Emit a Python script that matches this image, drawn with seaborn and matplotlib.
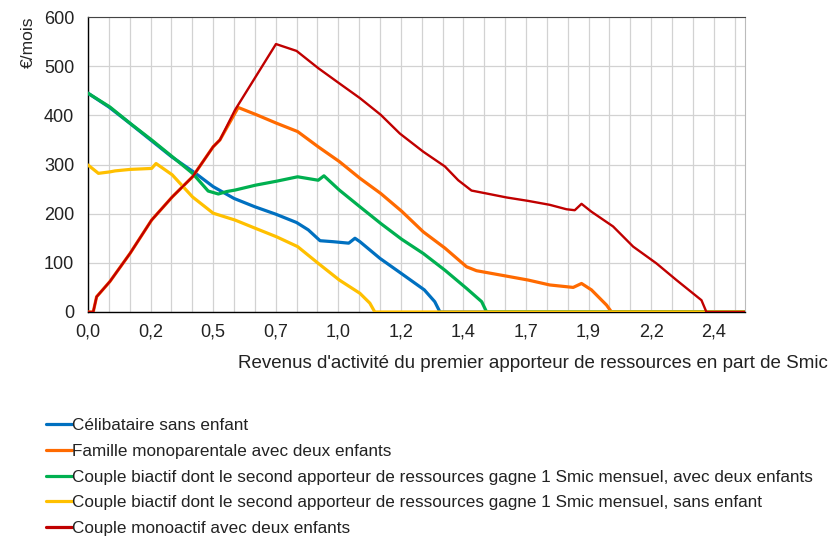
import matplotlib
matplotlib.use("Agg")

import matplotlib.pyplot as plt
import pandas as pd
import seaborn as sns
from matplotlib.lines import Line2D
from matplotlib.ticker import FuncFormatter, MultipleLocator

# Données (x en part de Smic, y en euros par mois)
celib_x = [0.0, 0.08, 0.16, 0.24, 0.32, 0.41, 0.48, 0.56, 0.64, 0.72, 0.80, 0.845, 0.89, 0.94, 1.00, 1.024, 1.043, 1.12, 1.20, 1.29, 1.33, 1.35, 2.52]
celib_y = [445, 417, 384, 350, 316, 283, 255, 231, 214, 199, 182, 167, 145, 143, 140, 150, 143, 109, 79, 45, 21, 0, 0]

mono_x = [0.0, 0.02, 0.033, 0.084, 0.161, 0.244, 0.323, 0.401, 0.48, 0.506, 0.576, 0.647, 0.723, 0.804, 0.883, 0.964, 1.043, 1.123, 1.203, 1.286, 1.369, 1.452, 1.49, 1.605, 1.688, 1.771, 1.861, 1.893, 1.931, 1.989, 2.008, 2.52]
mono_y = [0, 0, 31, 62, 119, 187, 234, 275, 336, 350, 416, 401, 384, 367, 336, 306, 272, 241, 205, 163, 130, 92, 84, 73, 65, 55, 50, 58, 45, 14, 0, 0]

biactif_enf_x = [0.0, 0.084, 0.161, 0.244, 0.323, 0.401, 0.461, 0.50, 0.532, 0.564, 0.643, 0.723, 0.804, 0.883, 0.905, 0.964, 1.043, 1.123, 1.203, 1.286, 1.369, 1.452, 1.51, 1.529, 2.52]
biactif_enf_y = [445, 417, 384, 350, 316, 282, 246, 240, 245, 248, 258, 266, 275, 268, 277, 248, 214, 180, 148, 119, 85, 48, 21, 0, 0]

biactif_x = [0.0, 0.04, 0.084, 0.104, 0.161, 0.244, 0.261, 0.323, 0.401, 0.48, 0.564, 0.643, 0.723, 0.804, 0.883, 0.964, 1.043, 1.081, 1.10, 2.52]
biactif_y = [299, 282, 285, 287, 290, 292, 302, 279, 234, 201, 187, 170, 153, 133, 99, 65, 38, 18, 0, 0]

monoactif_x = [0.0, 0.02, 0.033, 0.084, 0.161, 0.244, 0.323, 0.401, 0.48, 0.506, 0.564, 0.721, 0.80, 0.883, 0.964, 1.043, 1.123, 1.196, 1.286, 1.369, 1.42, 1.471, 1.529, 1.605, 1.688, 1.771, 1.835, 1.867, 1.893, 1.931, 2.014, 2.091, 2.18, 2.257, 2.353, 2.372, 2.52]
monoactif_y = [0, 0, 31, 62, 119, 187, 234, 275, 336, 350, 411, 545, 531, 496, 465, 435, 401, 363, 326, 296, 268, 247, 241, 233, 226, 218, 209, 207, 220, 204, 174, 133, 99, 65, 24, 0, 0]

labels = [
    "Célibataire sans enfant",
    "Famille monoparentale avec deux enfants",
    "Couple biactif dont le second apporteur de ressources gagne 1 Smic mensuel, avec deux enfants",
    "Couple biactif dont le second apporteur de ressources gagne 1 Smic mensuel, sans enfant",
    "Couple monoactif avec deux enfants",
]
colors = ["#0070C0", "#FF6A00", "#00B050", "#FFC000", "#C00000"]
widths = [2.3, 2.3, 2.3, 2.3, 1.7]
series = [(celib_x, celib_y), (mono_x, mono_y), (biactif_enf_x, biactif_enf_y),
          (biactif_x, biactif_y), (monoactif_x, monoactif_y)]

sns.set_style("white")
plt.rcParams["font.family"] = ["Liberation Sans", "DejaVu Sans"]
plt.rcParams["text.color"] = "#222222"

fig = plt.figure(figsize=(8.32, 5.37), dpi=100)
ax = fig.add_axes([88 / 832, 1 - 312 / 537, (745 - 88) / 832, (312 - 17) / 537])

for (xs, ys), label, color, lw in zip(series, labels, colors, widths):
    df = pd.DataFrame({"x": xs, "y": ys})
    sns.lineplot(data=df, x="x", y="y", color=color, linewidth=lw, sort=False,
                 estimator=None, ax=ax, zorder=3)

ax.set_xlim(0, 2.52)
ax.set_ylim(0, 600)
ax.xaxis.set_major_locator(MultipleLocator(0.24))
ax.xaxis.set_minor_locator(MultipleLocator(0.08))
ax.yaxis.set_major_locator(MultipleLocator(100))
ax.xaxis.set_major_formatter(FuncFormatter(lambda v, p: f"{v:.1f}".replace(".", ",")))
ax.grid(True, which="both", axis="x", color="#d2d2d2", linewidth=0.9)
ax.grid(True, which="major", axis="y", color="#d2d2d2", linewidth=0.9)
ax.tick_params(axis="both", which="both", length=0, labelsize=13, colors="#222222")
ax.tick_params(axis="x", pad=8)
ax.tick_params(axis="y", pad=10)
for side in ["left", "bottom"]:
    ax.spines[side].set_color("#000000")
    ax.spines[side].set_linewidth(1)
ax.spines["top"].set_color("#444444")
ax.spines["right"].set_color("#bbbbbb")
ax.set_xlabel("")
ax.set_ylabel("€/mois", loc="top", fontsize=12.5, labelpad=6)

fig.text(828 / 832, 1 - 363 / 537, "Revenus d'activité du premier apporteur de ressources en part de Smic",
         ha="right", va="center", fontsize=13.5)

handles = [Line2D([0], [0], color=c, linewidth=2.3) for c in colors]
fig.legend(handles, labels, loc="upper left", bbox_to_anchor=(46 / 832, 1 - 418 / 537),
           frameon=False, fontsize=12.3, handlelength=1.5, handletextpad=0.05,
           labelspacing=0.63, borderaxespad=0, borderpad=0)

fig.savefig("out.png", dpi=100)
